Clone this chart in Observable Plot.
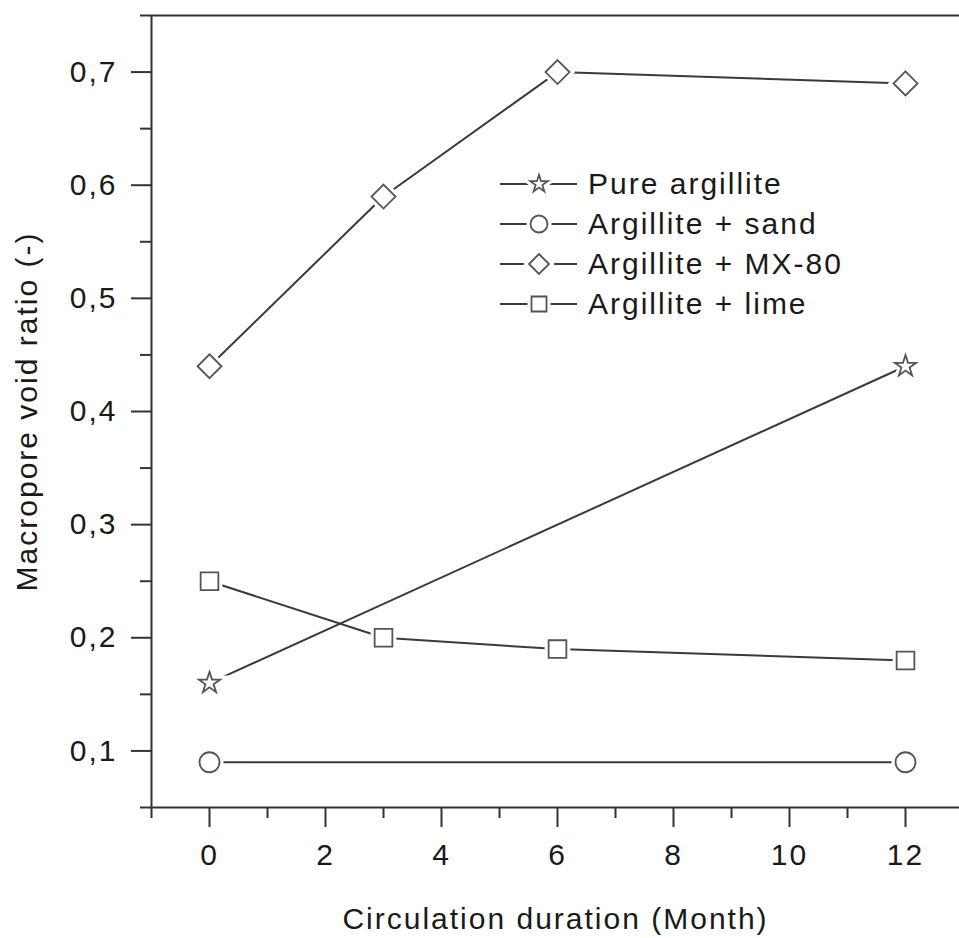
<!DOCTYPE html>
<html>
<head>
<meta charset="utf-8">
<script src="https://cdn.jsdelivr.net/npm/d3@7"></script>
<script src="https://cdn.jsdelivr.net/npm/@observablehq/plot@0.6"></script>
<style>
  body { margin: 0; background: #fff; }
  #wrap { position: relative; width: 959px; height: 938px; overflow: hidden; }
  #legend { position: absolute; left: 500px; top: 164px; font-family: "Liberation Sans", Arial, sans-serif; font-size: 30px; letter-spacing: 2px; color: #1a1a1a; }
  .row { display: flex; align-items: center; height: 40px; white-space: nowrap; }
  .row svg { display: block; margin-right: 11px; }
</style>
</head>
<body>
<div id="wrap"><div id="legend"></div></div>
<script>
// ---- data ----
const seriesNames = ["Pure argillite", "Argillite + sand", "Argillite + MX-80", "Argillite + lime"];
const seriesSymbols = ["star", "circle", "diamond2", "square"];
const pureMonths = [0, 12];
const pureValues = [0.16, 0.44];
const sandMonths = [0, 12];
const sandValues = [0.09, 0.09];
const mx80Months = [0, 3, 6, 12];
const mx80Values = [0.44, 0.59, 0.70, 0.69];
const limeMonths = [0, 3, 6, 12];
const limeValues = [0.25, 0.20, 0.19, 0.18];
const xDomain = [-1, 13];
const yDomain = [0.05, 0.75];
const xMajorTicks = [0, 2, 4, 6, 8, 10, 12];
const xMinorTicks = [-1, 1, 3, 5, 7, 9, 11, 13];
const yMajorTicks = [0.1, 0.2, 0.3, 0.4, 0.5, 0.6, 0.7];
const yMinorTicks = [0.05, 0.15, 0.25, 0.35, 0.45, 0.55, 0.65, 0.75];
const xLabel = "Circulation duration (Month)";
const yLabel = "Macropore void ratio (-)";

const monthsBySeries = [pureMonths, sandMonths, mx80Months, limeMonths];
const valuesBySeries = [pureValues, sandValues, mx80Values, limeValues];
const rows = [];
seriesNames.forEach((name, i) => {
  monthsBySeries[i].forEach((m, j) => rows.push({series: name, month: m, value: valuesBySeries[i][j]}));
});

// symbol radii (Plot r)
const symbolR = {star: 6.7, circle: 10, diamond2: 10.8, square: 10};
const lineColor = "#3a3a3a";
const markerColor = "#555";
const axisColor = "#333";
const fmt = d => d.toFixed(1).replace(".", ",");

const dotMarks = [];
seriesNames.forEach((name, i) => {
  const data = rows.filter(r => r.series === name);
  const sym = seriesSymbols[i];
  dotMarks.push(Plot.dot(data, {x: "month", y: "value", symbol: sym, r: symbolR[sym], fill: "white", stroke: "white", strokeWidth: 8}));
  dotMarks.push(Plot.dot(data, {x: "month", y: "value", symbol: sym, r: symbolR[sym], fill: "white", stroke: markerColor, strokeWidth: 1.8}));
});

const chart = Plot.plot({
  width: 959,
  height: 938,
  marginTop: 15,
  marginLeft: 151,
  marginRight: 0,
  marginBottom: 131,
  style: "font-family: 'Liberation Sans', Arial, sans-serif; font-size: 30px; letter-spacing: 2px; color: #1a1a1a; background: white; overflow: hidden;",
  x: {domain: xDomain, range: [151, 963]},
  y: {domain: yDomain},
  marks: [
    Plot.line(rows, {x: "month", y: "value", z: "series", stroke: lineColor, strokeWidth: 2}),
    ...dotMarks,
    Plot.ruleY([yDomain[1]], {stroke: axisColor, strokeWidth: 2}),
    Plot.ruleX([xDomain[0]], {stroke: axisColor, strokeWidth: 2}),
    Plot.ruleY([yDomain[0]], {stroke: axisColor, strokeWidth: 2}),
    Plot.axisY({ticks: yMajorTicks, tickSize: 20, tickPadding: 14, tickFormat: fmt, stroke: axisColor, strokeWidth: 2,
      label: yLabel, labelAnchor: "center", labelOffset: 136, labelArrow: "none"}),
    Plot.axisY({ticks: yMinorTicks, tickSize: 11, tickFormat: () => "", stroke: axisColor, strokeWidth: 2, label: null}),
    Plot.axisX({ticks: xMajorTicks, tickSize: 20, tickPadding: 16, tickFormat: d => String(d), stroke: axisColor, strokeWidth: 2,
      label: xLabel, labelAnchor: "center", labelOffset: 121, labelArrow: "none"}),
    Plot.axisX({ticks: xMinorTicks, tickSize: 11, tickFormat: () => "", stroke: axisColor, strokeWidth: 2, label: null})
  ]
});
document.getElementById("wrap").prepend(chart);

// ---- legend (HTML) ----
const d3Symbols = {star: d3.symbolStar, circle: d3.symbolCircle, diamond2: d3.symbolDiamond2, square: d3.symbolSquare};
const legendSize = {star: 95, circle: 227, diamond2: 255, square: 225};
const legend = d3.select("#legend");
seriesNames.forEach((name, i) => {
  const sym = seriesSymbols[i];
  const row = legend.append("div").attr("class", "row");
  const svg = row.append("svg").attr("width", 77).attr("height", 40);
  svg.append("line").attr("x1", 0).attr("x2", 77).attr("y1", 20).attr("y2", 20).attr("stroke", lineColor).attr("stroke-width", 2);
  const path = d3.symbol(d3Symbols[sym], legendSize[sym])();
  svg.append("path").attr("d", path).attr("transform", "translate(39,20)").attr("fill", "white").attr("stroke", "white").attr("stroke-width", 8);
  svg.append("path").attr("d", path).attr("transform", "translate(39,20)").attr("fill", "white").attr("stroke", markerColor).attr("stroke-width", 1.8);
  row.append("span").text(name);
});
</script>
</body>
</html>
